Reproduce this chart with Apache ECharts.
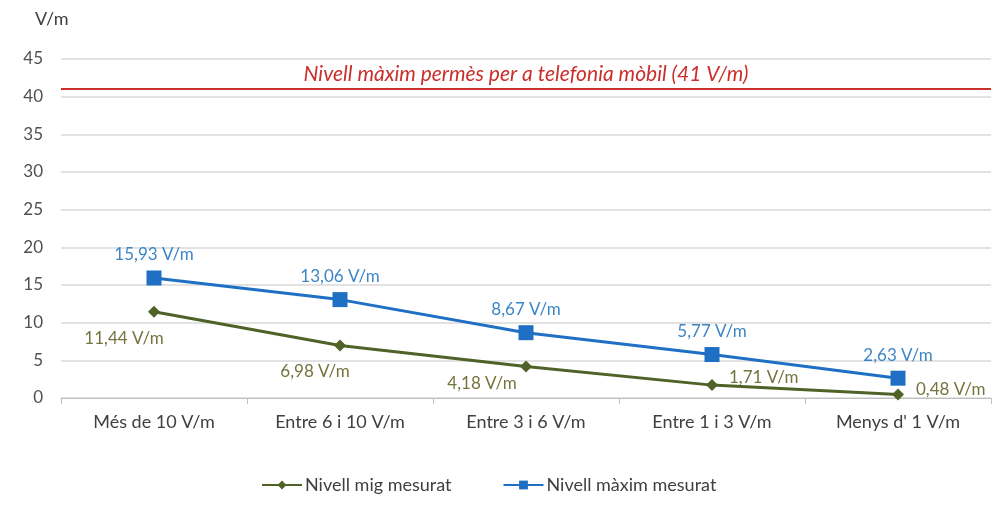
<!DOCTYPE html>
<html><head><meta charset="utf-8">
<script src="https://cdn.jsdelivr.net/npm/echarts@6/dist/echarts.min.js"></script>
<style>html,body{margin:0;padding:0;background:#fff}#c{width:999px;height:520px}</style>
</head><body><div id="c"></div>
<script>
const categories = ['Més de 10 V/m', 'Entre 6 i 10 V/m', 'Entre 3 i 6 V/m', 'Entre 1 i 3 V/m', "Menys d' 1 V/m"];
const seriesNames = ['Nivell mig mesurat', 'Nivell màxim mesurat'];
const mitjaValues = [11.44, 6.98, 4.18, 1.71, 0.48];
const maximValues = [15.93, 13.06, 8.67, 5.77, 2.63];
const limitValue = 41;
const limitLabel = 'Nivell màxim permès per a telefonia mòbil (41 V/m)';
const yUnit = 'V/m';

const FONT = 'Lato';
const fmt = v => v.toFixed(2).replace('.', ',') + ' V/m';

// label placement (styling only)
const mitjaLabelPos = [
  {position: 'bottom', offset: [-30, 7]},
  {position: 'bottom', offset: [-25, 7]},
  {position: 'bottom', offset: [-44, -2]},
  {position: 'right', offset: [6, -8]},
  {position: 'right', offset: [7, -5]}
];
const maximLabelPos = [
  {position: 'top', offset: [0, -2]},
  {position: 'top', offset: [0, -2]},
  {position: 'top', offset: [0, -2]},
  {position: 'top', offset: [0, -2]},
  {position: 'top', offset: [0, -2]}
];

const chart = echarts.init(document.getElementById('c'));
chart.setOption({
  animation: false,
  textStyle: {fontFamily: FONT},
  grid: {left: 61, right: 8, top: 59, bottom: 122},
  graphic: [{type: 'text', left: 35, top: 10, style: {text: yUnit, font: '18px ' + FONT, fill: '#404040'}}],
  legend: {
    top: 471, left: 256, itemGap: 51, itemWidth: 40, itemHeight: 11,
    textStyle: {fontSize: 18, color: '#404040', fontFamily: FONT, padding: [0, 0, 0, -2]},
    data: seriesNames
  },
  xAxis: {
    type: 'category', data: categories, boundaryGap: true,
    axisLine: {lineStyle: {color: '#bfbfbf'}},
    axisTick: {show: true, length: 6, lineStyle: {color: '#bfbfbf'}},
    axisLabel: {color: '#404040', fontSize: 18, margin: 15, fontFamily: FONT}
  },
  yAxis: {
    type: 'value', min: 0, max: 45, interval: 5,
    axisLine: {show: false}, axisTick: {show: false},
    axisLabel: {color: '#505050', fontSize: 17, margin: 18, fontFamily: FONT},
    splitLine: {lineStyle: {color: '#d9d9d9', width: 1.5}}
  },
  series: [
    {
      name: seriesNames[0], type: 'line',
      data: mitjaValues.map((v, i) => ({value: v, label: mitjaLabelPos[i]})),
      symbol: 'diamond', symbolSize: 12,
      lineStyle: {color: '#4f6228', width: 3},
      itemStyle: {color: '#4f6228'},
      label: {show: true, formatter: p => fmt(p.value), color: '#74743f', fontSize: 17, fontFamily: FONT},
      z: 3
    },
    {
      name: seriesNames[1], type: 'line',
      data: maximValues.map((v, i) => ({value: v, label: maximLabelPos[i]})),
      symbol: 'rect', symbolSize: 15,
      lineStyle: {color: '#1f6fc5', width: 3},
      itemStyle: {color: '#1f6fc5'},
      label: {show: true, formatter: p => fmt(p.value), color: '#3d86c6', fontSize: 17, fontFamily: FONT},
      markLine: {
        silent: true, symbol: 'none',
        lineStyle: {color: '#c9302c', type: 'solid', width: 2},
        label: {show: true, position: 'middle', formatter: limitLabel, color: '#c9302c', fontStyle: 'italic', fontSize: 21, fontFamily: FONT, distance: 4},
        data: [{yAxis: limitValue}]
      },
      z: 4
    }
  ]
});
</script>
</body></html>
